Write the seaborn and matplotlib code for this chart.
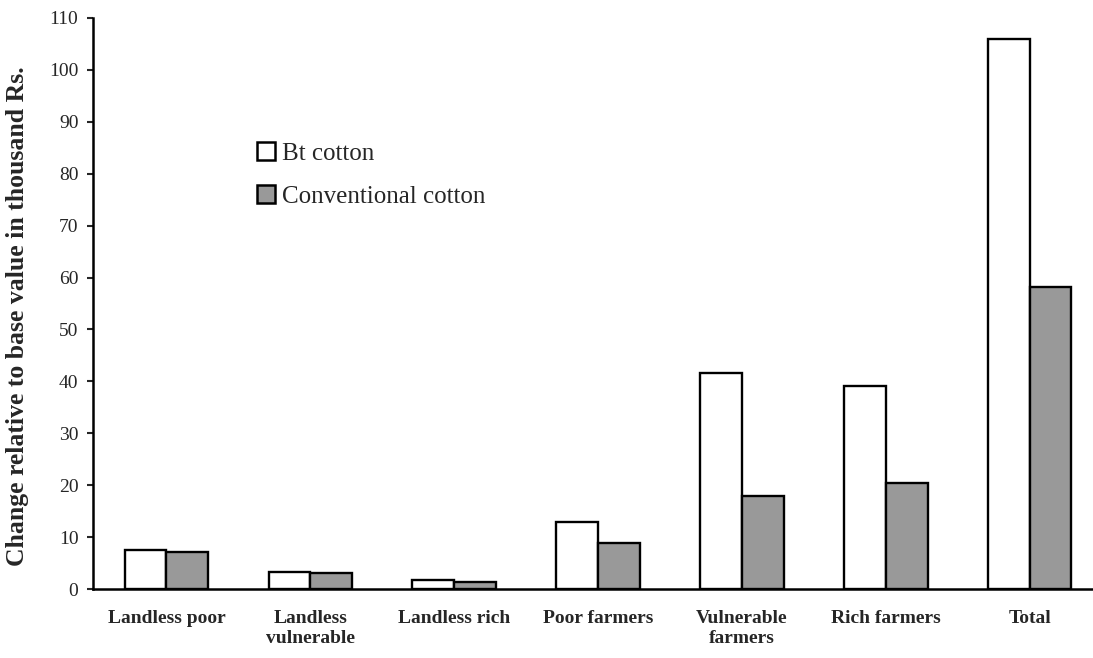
import pandas as pd
import matplotlib.pyplot as plt
import seaborn as sns
from matplotlib.patches import Patch

sns.set_theme(style="white")
plt.rcParams['font.family'] = ['Liberation Serif', 'DejaVu Serif']

# Data
groups = ["Landless poor", "Landless\nvulnerable", "Landless rich", "Poor farmers",
          "Vulnerable\nfarmers", "Rich farmers", "Total"]
bt_cotton = [7.5, 3.3, 1.7, 12.9, 41.6, 39.2, 106.0]
conv_cotton = [7.1, 3.0, 1.4, 8.9, 17.9, 20.4, 58.1]
series = ["Bt cotton", "Conventional cotton"]
colors = ["white", "#999999"]

df = pd.DataFrame({
    "group": groups * 2,
    "value": bt_cotton + conv_cotton,
    "series": [series[0]] * len(groups) + [series[1]] * len(groups),
})

fig = plt.figure(figsize=(10.93, 6.58), dpi=100)
ax = fig.add_axes([93 / 1093, 1 - 589 / 658, 1 - 93 / 1093, (589 - 18) / 658])

sns.barplot(data=df, x="group", y="value", hue="series", order=groups, hue_order=series,
            palette=colors, edgecolor="black", linewidth=1.7, width=0.58, gap=0,
            legend=False, ax=ax)

ax.set_ylim(0, 110)
ax.set_xlim(-0.51, 6.44)
ax.set_yticks(range(0, 111, 10))
ax.set_xlabel("")
ax.set_ylabel("Change relative to base value in thousand Rs.", fontsize=18.5,
              fontweight="bold")
ax.yaxis.set_label_coords(-0.064, 0.478)
ax.tick_params(axis="y", direction="out", length=4.5, width=1.5, labelsize=14,
               left=True, pad=6)
ax.tick_params(axis="x", length=0, labelsize=14, pad=15)
for lbl in ax.get_xticklabels():
    lbl.set_fontweight("bold")
    lbl.set_linespacing(1.25)

for side in ["top", "right"]:
    ax.spines[side].set_visible(False)
for side in ["left", "bottom"]:
    ax.spines[side].set_color("black")
    ax.spines[side].set_linewidth(1.8)

handles = [Patch(facecolor=c, edgecolor="black", linewidth=1.8) for c in colors]
ax.legend(handles, series, loc="upper left", bbox_to_anchor=(0.154, 0.80),
          frameon=False, fontsize=18, handlelength=0.72, handleheight=0.72,
          handletextpad=0.3, labelspacing=0.8, borderaxespad=0)

fig.savefig("out.png", dpi=100)
